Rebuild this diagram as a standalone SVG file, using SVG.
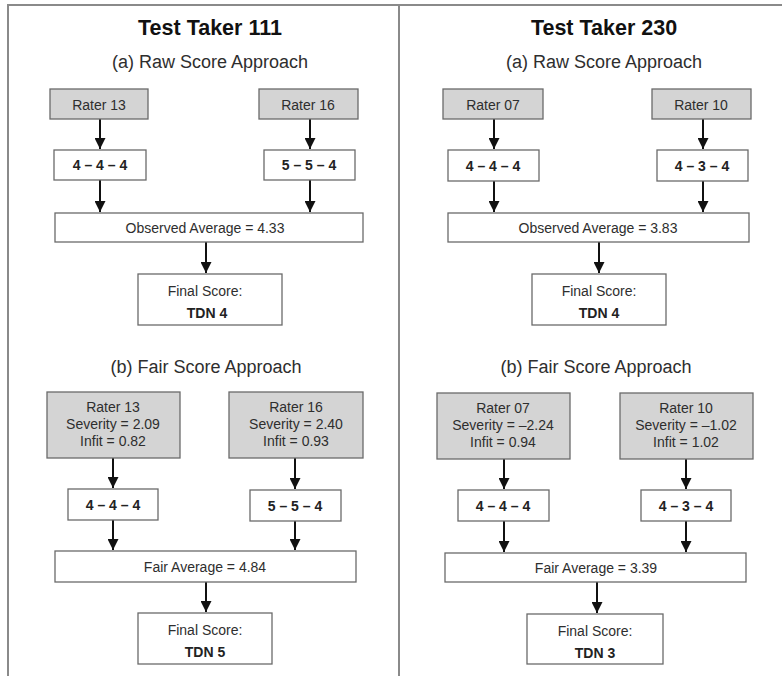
<svg xmlns="http://www.w3.org/2000/svg" width="782" height="676" viewBox="0 0 782 676">
<defs>
<marker id="ah" viewBox="0 0 10 10" refX="10" refY="5" markerWidth="5.5" markerHeight="5.5" markerUnits="strokeWidth" orient="auto">
<path d="M0,0 L10,5 L0,10 Z" fill="#111"/>
</marker>
<style>
.frame{fill:none;stroke:#8a8a8a;stroke-width:2}
.g{fill:#d4d4d4;stroke:#6a6a6a;stroke-width:1.3}
.w{fill:#fff;stroke:#6a6a6a;stroke-width:1.3}
text{font-family:"Liberation Sans",Arial,sans-serif;fill:#2e2e2e;text-anchor:middle}
.t{font-size:21.5px;font-weight:bold;fill:#111}
.s{font-size:18px}
.n{font-size:14px}
.b{font-size:14px;font-weight:bold;fill:#222}
.c line{stroke:#111;stroke-width:2;marker-end:url(#ah)}
</style>
</defs>
<rect width="782" height="676" fill="#fff"/>
<g id="frame">
<path class="frame" d="M8,676 V5 H782 M399,5 V676"/>
</g>
<g id="titles">
<text class="t" x="210" y="35">Test Taker 111</text>
<text class="s" x="210" y="68">(a) Raw Score Approach</text>
<text class="s" x="206" y="373">(b) Fair Score Approach</text>
<text class="t" x="604" y="35">Test Taker 230</text>
<text class="s" x="604" y="68">(a) Raw Score Approach</text>
<text class="s" x="596" y="373">(b) Fair Score Approach</text>
</g>
<g class="c" id="connectors">
<line x1="100" y1="119" x2="100" y2="149"/>
<line x1="310" y1="119" x2="310" y2="149"/>
<line x1="100" y1="180" x2="100" y2="212"/>
<line x1="310" y1="180" x2="310" y2="212"/>
<line x1="206" y1="242" x2="206" y2="273"/>
<line x1="494" y1="119" x2="494" y2="149"/>
<line x1="703" y1="119" x2="703" y2="149"/>
<line x1="494" y1="181" x2="494" y2="212"/>
<line x1="703" y1="181" x2="703" y2="212"/>
<line x1="599" y1="242" x2="599" y2="273"/>
<line x1="113" y1="458" x2="113" y2="488"/>
<line x1="295" y1="458" x2="295" y2="489"/>
<line x1="113" y1="520" x2="113" y2="550"/>
<line x1="295" y1="521" x2="295" y2="550"/>
<line x1="206" y1="582" x2="206" y2="612"/>
<line x1="504" y1="459" x2="504" y2="489"/>
<line x1="686" y1="459" x2="686" y2="489"/>
<line x1="504" y1="521" x2="504" y2="552"/>
<line x1="686" y1="521" x2="686" y2="552"/>
<line x1="597" y1="582" x2="597" y2="613"/>
</g>
<g id="l-rater13a"><rect class="g" x="50" y="89" width="98" height="30"/><text class="n" x="99" y="110">Rater 13</text></g>
<g id="l-rater16a"><rect class="g" x="259" y="89" width="99" height="30"/><text class="n" x="308" y="110">Rater 16</text></g>
<g id="l-score13a"><rect class="w" x="54" y="150" width="92" height="30"/><text class="b" x="100" y="170">4 – 4 – 4</text></g>
<g id="l-score16a"><rect class="w" x="264" y="150" width="91" height="30"/><text class="b" x="309" y="170">5 – 5 – 4</text></g>
<g id="l-obs"><rect class="w" x="55" y="213" width="308" height="29"/><text class="n" x="205" y="233">Observed Average = 4.33</text></g>
<g id="l-finala"><rect class="w" x="138" y="274" width="144" height="51"/><text class="n" x="205" y="296">Final Score:</text><text class="b" x="207" y="318">TDN 4</text></g>

<g id="r-rater07a"><rect class="g" x="443" y="89" width="100" height="30"/><text class="n" x="493" y="110">Rater 07</text></g>
<g id="r-rater10a"><rect class="g" x="652" y="89" width="99" height="30"/><text class="n" x="701" y="110">Rater 10</text></g>
<g id="r-score07a"><rect class="w" x="448" y="150" width="91" height="31"/><text class="b" x="493" y="171">4 – 4 – 4</text></g>
<g id="r-score10a"><rect class="w" x="657" y="150" width="91" height="31"/><text class="b" x="702" y="171">4 – 3 – 4</text></g>
<g id="r-obs"><rect class="w" x="448" y="213" width="301" height="29"/><text class="n" x="598" y="233">Observed Average = 3.83</text></g>
<g id="r-finala"><rect class="w" x="532" y="274" width="134" height="51"/><text class="n" x="599" y="296">Final Score:</text><text class="b" x="599" y="318">TDN 4</text></g>

<g id="l-rater13b"><rect class="g" x="47" y="392" width="133" height="66"/><text class="n" x="113" y="412">Rater 13</text><text class="n" x="113" y="429">Severity = 2.09</text><text class="n" x="113" y="446">Infit = 0.82</text></g>
<g id="l-rater16b"><rect class="g" x="229" y="392" width="134" height="66"/><text class="n" x="296" y="412">Rater 16</text><text class="n" x="296" y="429">Severity = 2.40</text><text class="n" x="296" y="446">Infit = 0.93</text></g>
<g id="l-score13b"><rect class="w" x="68" y="489" width="90" height="31"/><text class="b" x="113" y="510">4 – 4 – 4</text></g>
<g id="l-score16b"><rect class="w" x="250" y="490" width="91" height="31"/><text class="b" x="295" y="511">5 – 5 – 4</text></g>
<g id="l-fair"><rect class="w" x="55" y="551" width="301" height="31"/><text class="n" x="205" y="572">Fair Average = 4.84</text></g>
<g id="l-finalb"><rect class="w" x="138" y="613" width="134" height="51"/><text class="n" x="205" y="635">Final Score:</text><text class="b" x="205" y="657">TDN 5</text></g>

<g id="r-rater07b"><rect class="g" x="437" y="393" width="133" height="66"/><text class="n" x="503" y="413">Rater 07</text><text class="n" x="503" y="430">Severity = –2.24</text><text class="n" x="503" y="447">Infit = 0.94</text></g>
<g id="r-rater10b"><rect class="g" x="620" y="393" width="133" height="66"/><text class="n" x="686" y="413">Rater 10</text><text class="n" x="686" y="430">Severity = –1.02</text><text class="n" x="686" y="447">Infit = 1.02</text></g>
<g id="r-score07b"><rect class="w" x="458" y="490" width="91" height="31"/><text class="b" x="503" y="511">4 – 4 – 4</text></g>
<g id="r-score10b"><rect class="w" x="641" y="490" width="90" height="31"/><text class="b" x="686" y="511">4 – 3 – 4</text></g>
<g id="r-fair"><rect class="w" x="445" y="553" width="301" height="29"/><text class="n" x="596" y="573">Fair Average = 3.39</text></g>
<g id="r-finalb"><rect class="w" x="527" y="614" width="136" height="50"/><text class="n" x="595" y="636">Final Score:</text><text class="b" x="595" y="658">TDN 3</text></g>
</svg>
